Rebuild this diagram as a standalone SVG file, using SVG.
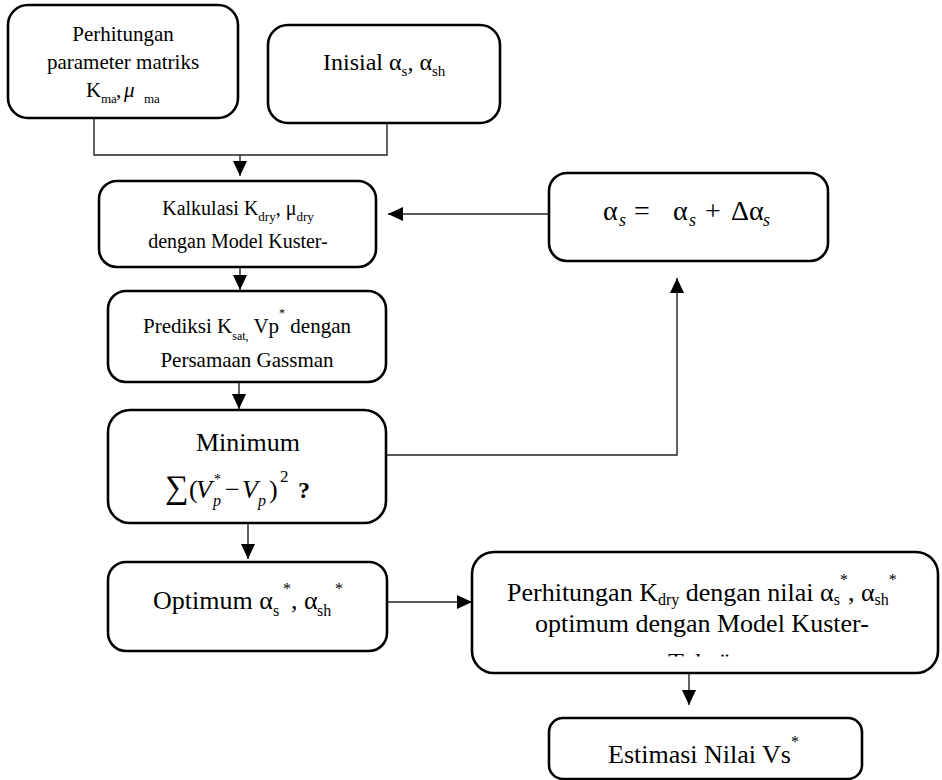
<svg xmlns="http://www.w3.org/2000/svg" width="942" height="780" viewBox="0 0 942 780">
<style>
.box{fill:#fff;stroke:#000;stroke-width:2.6}
.c{fill:none;stroke:#222;stroke-width:1.4}
text{font-family:"Liberation Serif","Times New Roman",serif;fill:#000}
.m{text-anchor:middle}
.i{font-style:italic}
</style>
<defs>
<marker id="ah" markerUnits="userSpaceOnUse" markerWidth="16" markerHeight="16" refX="15" refY="7" orient="auto">
<path d="M0,0 L15,7 L0,14 z" fill="#000"/>
</marker>
<clipPath id="clip7"><rect x="472" y="552" width="466" height="104.5"/></clipPath>
</defs>

<g id="connectors">
<path class="c" d="M94,118 V155 H387 V123"/>
<path class="c" d="M240,155 V176" marker-end="url(#ah)"/>
<path class="c" d="M240,267 V290" marker-end="url(#ah)"/>
<path class="c" d="M239,382 V409" marker-end="url(#ah)"/>
<path class="c" d="M248,523 V559" marker-end="url(#ah)"/>
<path class="c" d="M387,602 H472" marker-end="url(#ah)"/>
<path class="c" d="M689,673 V705" marker-end="url(#ah)"/>
<path class="c" d="M386,455 H677 V278" marker-end="url(#ah)"/>
<path class="c" d="M549,214 H388" marker-end="url(#ah)"/>
</g>

<g id="node-parameter">
<rect class="box" x="8" y="5" width="230" height="113" rx="20"/>
<text class="m" x="123" y="41" font-size="21">Perhitungan</text>
<text class="m" x="123" y="69" font-size="21">parameter matriks</text>
<text y="97" font-size="21"><tspan x="86">K</tspan><tspan x="101" y="103" font-size="13">ma</tspan><tspan x="116" y="97">,</tspan><tspan x="124" class="i">μ</tspan><tspan x="144" y="103" font-size="13">ma</tspan></text>
</g>

<g id="node-inisial">
<rect class="box" x="268" y="25" width="232" height="98" rx="20"/>
<text x="323" y="70" font-size="24">Inisial α<tspan font-size="15" dy="6">s</tspan><tspan dy="-6">, α</tspan><tspan font-size="15" dy="6">sh</tspan></text>
</g>

<g id="node-kalkulasi">
<rect class="box" x="99" y="181" width="277" height="86" rx="18"/>
<text class="m" x="238" y="215" font-size="20">Kalkulasi K<tspan font-size="13" dy="6">dry</tspan><tspan dy="-6">, μ</tspan><tspan font-size="13" dy="6">dry</tspan></text>
<text class="m" x="238" y="248" font-size="20">dengan Model Kuster-</text>
</g>

<g id="node-update">
<rect class="box" x="549" y="173" width="279" height="88" rx="18"/>
<text y="220" font-size="28"><tspan x="603">α</tspan><tspan x="619" y="226" font-size="18" class="i">s</tspan><tspan x="634" y="220">=</tspan><tspan x="673">α</tspan><tspan x="689" y="226" font-size="18" class="i">s</tspan><tspan x="705" y="220">+</tspan><tspan x="731">Δα</tspan><tspan x="763" y="226" font-size="18" class="i">s</tspan></text>
</g>

<g id="node-prediksi">
<rect class="box" x="108" y="291" width="278" height="91" rx="18"/>
<text class="m" x="247" y="333" font-size="21">Prediksi K<tspan font-size="12" dy="7">sat,</tspan><tspan dy="-7"> Vp</tspan><tspan font-size="12" dy="-16">*</tspan><tspan dy="16"> dengan</tspan></text>
<text class="m" x="247" y="367" font-size="21">Persamaan Gassman</text>
</g>

<g id="node-minimum">
<rect class="box" x="108" y="410" width="278" height="113" rx="22"/>
<text class="m" x="248" y="451" font-size="26">Minimum</text>
<text y="498" font-size="26"><tspan x="165" font-size="33">∑</tspan><tspan x="189">(</tspan><tspan x="196" class="i">V</tspan><tspan x="214" y="484" font-size="14">*</tspan><tspan x="213" y="506" font-size="16" class="i">p</tspan><tspan x="225" y="498">−</tspan><tspan x="242" class="i">V</tspan><tspan x="258" y="506" font-size="16" class="i">p</tspan><tspan x="269" y="498">)</tspan><tspan x="280" y="482" font-size="17">2</tspan><tspan x="298" y="498" font-weight="bold" font-size="24">?</tspan></text>
</g>

<g id="node-optimum">
<rect class="box" x="108" y="562" width="279" height="89" rx="18"/>
<text y="609" font-size="26"><tspan x="153">Optimum α</tspan><tspan x="273" y="616" font-size="16">s</tspan><tspan x="283" y="594" font-size="16">*</tspan><tspan x="291" y="609">, α</tspan><tspan x="317" y="616" font-size="16">sh</tspan><tspan x="335" y="594" font-size="16">*</tspan></text>
</g>

<g id="node-perhitungan-kdry">
<rect class="box" x="472" y="552" width="466" height="121" rx="22"/>
<text x="507" y="601" font-size="26">Perhitungan K<tspan font-size="16" dy="4">dry</tspan><tspan dy="-4"> dengan nilai α</tspan><tspan font-size="16" dy="4">s</tspan><tspan font-size="16" dy="-20">*</tspan><tspan dy="16">, α</tspan><tspan font-size="16" dy="4">sh</tspan><tspan font-size="16" dy="-20">*</tspan></text>
<text x="535" y="632" font-size="26">optimum dengan Model Kuster-</text>
<text x="668" y="671" font-size="26" clip-path="url(#clip7)">Toksöz</text>
</g>

<g id="node-estimasi">
<rect class="box" x="549" y="718" width="313" height="61" rx="14"/>
<text x="608" y="763" font-size="26">Estimasi Nilai Vs<tspan font-size="16" dy="-16">*</tspan></text>
</g>
</svg>
